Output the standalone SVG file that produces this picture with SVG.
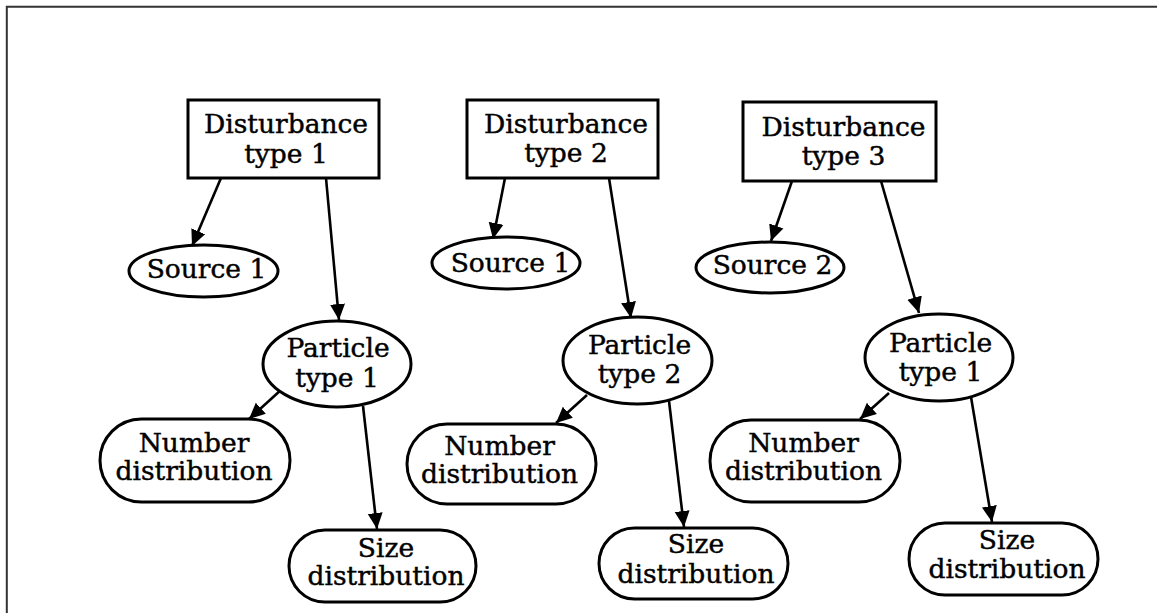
<svg xmlns="http://www.w3.org/2000/svg" width="1157" height="613" viewBox="0 0 1157 613">
  <style>
    .frame { fill: none; stroke: #333; stroke-width: 2; }
    .node { fill: #fff; stroke: #000; stroke-width: 3; }
    .edge { fill: none; stroke: #000; stroke-width: 2.6; marker-end: url(#arrow); }
    text { font-family: "DejaVu Serif", "Liberation Serif", serif; font-size: 26.5px; fill: #000; stroke: #000; stroke-width: 0.45; text-anchor: middle; }
  </style>
  <defs>
    <marker id="arrow" markerUnits="userSpaceOnUse" markerWidth="18" markerHeight="16" refX="16" refY="8" orient="auto">
      <path d="M0,0.5 L16,8 L0,15.5 Z" fill="#000"/>
    </marker>
  </defs>

  <rect width="1157" height="613" fill="#fff"/>
  <!-- outer frame, open to the right and bottom edges -->
  <path class="frame" d="M6.8,613 L6.8,6.8 L1157,6.8"/>

  <!-- connectors -->
  <g id="connectors">
    <line class="edge" x1="221" y1="178" x2="192" y2="246"/>
    <line class="edge" x1="326" y1="178" x2="339" y2="320"/>
    <line class="edge" x1="282" y1="389" x2="249" y2="419"/>
    <line class="edge" x1="363" y1="406" x2="377" y2="529"/>

    <line class="edge" x1="505" y1="178" x2="493" y2="239"/>
    <line class="edge" x1="609" y1="178" x2="631" y2="318"/>
    <line class="edge" x1="587" y1="395" x2="556" y2="423"/>
    <line class="edge" x1="669" y1="401" x2="684" y2="527"/>

    <line class="edge" x1="792" y1="181" x2="771" y2="241"/>
    <line class="edge" x1="881" y1="181" x2="919" y2="313"/>
    <line class="edge" x1="889" y1="393" x2="860" y2="419"/>
    <line class="edge" x1="971" y1="397" x2="992" y2="522"/>
  </g>

  <!-- column 1 -->
  <g id="disturbance1">
    <rect class="node" x="188" y="100" width="191" height="78"/>
    <text x="286" y="133">Disturbance</text>
    <text x="286" y="163">type 1</text>
  </g>
  <g id="source1a">
    <ellipse class="node" cx="203.5" cy="271" rx="74.5" ry="26"/>
    <text x="206.5" y="278">Source 1</text>
  </g>
  <g id="particle1a">
    <ellipse class="node" cx="337" cy="364" rx="74" ry="43"/>
    <text x="338" y="357">Particle</text>
    <text x="337" y="387">type 1</text>
  </g>
  <g id="number1">
    <rect class="node" x="100" y="419" width="190" height="83" rx="41.5" ry="41.5"/>
    <text x="194" y="452">Number</text>
    <text x="194" y="480">distribution</text>
  </g>
  <g id="size1">
    <rect class="node" x="289" y="530" width="187" height="72" rx="36" ry="36"/>
    <text x="386" y="557">Size</text>
    <text x="386" y="585">distribution</text>
  </g>

  <!-- column 2 -->
  <g id="disturbance2">
    <rect class="node" x="467" y="100" width="191" height="78"/>
    <text x="566" y="133">Disturbance</text>
    <text x="566" y="162">type 2</text>
  </g>
  <g id="source1b">
    <ellipse class="node" cx="506" cy="263" rx="74" ry="26"/>
    <text x="510.5" y="272">Source 1</text>
  </g>
  <g id="particle2">
    <ellipse class="node" cx="637.5" cy="360.5" rx="74.5" ry="43.5"/>
    <text x="639.5" y="354">Particle</text>
    <text x="639.5" y="383">type 2</text>
  </g>
  <g id="number2">
    <rect class="node" x="407" y="424" width="189" height="80" rx="40" ry="40"/>
    <text x="499.5" y="455">Number</text>
    <text x="499.5" y="483">distribution</text>
  </g>
  <g id="size2">
    <rect class="node" x="599" y="528" width="189" height="71" rx="35.5" ry="35.5"/>
    <text x="696" y="553">Size</text>
    <text x="696" y="583">distribution</text>
  </g>

  <!-- column 3 -->
  <g id="disturbance3">
    <rect class="node" x="743" y="102" width="193" height="79"/>
    <text x="843.5" y="136">Disturbance</text>
    <text x="843.5" y="165">type 3</text>
  </g>
  <g id="source2">
    <ellipse class="node" cx="770" cy="267.5" rx="74" ry="25.5"/>
    <text x="772.5" y="274">Source 2</text>
  </g>
  <g id="particle1b">
    <ellipse class="node" cx="939" cy="357.5" rx="74" ry="43.5"/>
    <text x="940.5" y="352">Particle</text>
    <text x="940.5" y="381">type 1</text>
  </g>
  <g id="number3">
    <rect class="node" x="710" y="420" width="190" height="82" rx="41" ry="41"/>
    <text x="803.5" y="452">Number</text>
    <text x="803.5" y="480">distribution</text>
  </g>
  <g id="size3">
    <rect class="node" x="909" y="523" width="189" height="72" rx="36" ry="36"/>
    <text x="1007" y="549">Size</text>
    <text x="1007" y="578">distribution</text>
  </g>
</svg>
